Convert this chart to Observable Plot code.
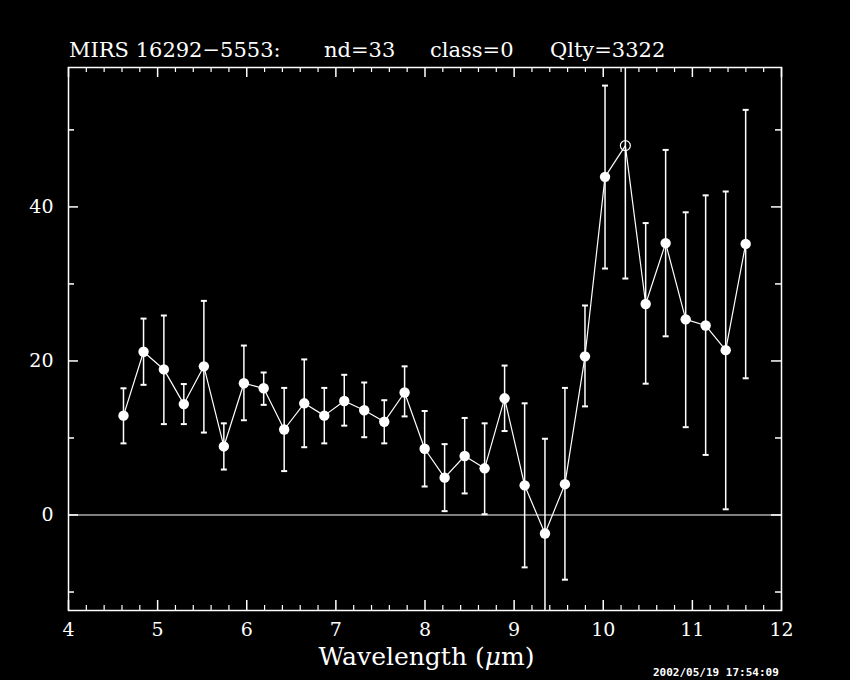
<!DOCTYPE html>
<html><head><meta charset="utf-8">
<script src="https://cdn.jsdelivr.net/npm/d3@7"></script>
<script src="https://cdn.jsdelivr.net/npm/@observablehq/plot@0.6"></script>
<style>
html,body{margin:0;padding:0;background:#000;overflow:hidden;}
#chart{width:850px;height:680px;overflow:hidden;}
</style>
</head><body><div id="chart"></div>
<script>
// ---- data ----
const wavelength = [4.617, 4.842, 5.070, 5.294, 5.519, 5.743, 5.968, 6.190, 6.420, 6.645, 6.870, 7.094, 7.318, 7.543, 7.771, 7.996,
                    8.220, 8.445, 8.669, 8.893, 9.118, 9.346, 9.570, 9.795, 10.020, 10.248, 10.476, 10.700, 10.925, 11.149, 11.374, 11.598];
const flux       = [12.9, 21.2, 18.9, 14.4, 19.3, 8.9, 17.1, 16.45, 11.1, 14.5, 12.9, 14.8, 13.6, 12.1, 15.9, 8.6,
                    4.85, 7.66, 6.06, 15.15, 3.85, -2.4, 4.0, 20.6, 43.9, 47.96, 27.4, 35.3, 25.4, 24.6, 21.4, 35.2];
const errLow     = [9.3, 16.9, 11.8, 11.8, 10.7, 5.9, 12.3, 14.3, 5.7, 8.8, 9.3, 11.6, 10.1, 9.3, 12.8, 3.7,
                    0.5, 2.8, 0.1, 10.9, -6.8, -14.7, -8.4, 14.1, 32.0, 30.7, 17.05, 23.2, 11.4, 7.8, 0.74, 17.75];
const errHigh    = [16.45, 25.5, 25.9, 17.0, 27.8, 11.9, 22.0, 18.5, 16.5, 20.2, 16.5, 18.2, 17.2, 14.9, 19.3, 13.5,
                    9.2, 12.6, 11.9, 19.4, 14.5, 9.9, 16.5, 27.2, 55.75, 65.2, 37.9, 47.4, 39.3, 41.5, 42.0, 52.6];
const openFlag   = [0,0,0,0,0,0,0,0,0,0,0,0,0,0,0,0, 0,0,0,0,0,0,0,0,0,1,0,0,0,0,0,0];

const xMajorTicks = [4, 5, 6, 7, 8, 9, 10, 11, 12];
const yMajorTicks = [0, 20, 40];
const yMinorTicks = [-10, 10, 30, 50];
const xDomain = [4, 12];
const yDomain = [-12.4, 58.1];
const titleParts = ["MIRS 16292\u22125553:", "nd=33", "class=0", "Qlty=3322"];
const timestamp = "2002/05/19 17:54:09";

const xMinorTicks = d3.range(4.2, 12, 0.2).map(v => +v.toFixed(1)).filter(v => Math.abs(v - Math.round(v)) > 1e-6);

const data = wavelength.map((x, i) => ({x, y: flux[i], lo: errLow[i], hi: errHigh[i], open: openFlag[i] === 1}));

const W = 850, H = 680, mT = 67, mR = 69, mB = 70, mL = 68;
const pW = W - mL - mR, pH = H - mT - mB;
const fg = "white";

const capSymbol = {draw(ctx, size) { const r = Math.sqrt(size / Math.PI); ctx.moveTo(-r, 0); ctx.lineTo(r, 0); }};

const chart = Plot.plot({
  width: W, height: H,
  marginTop: mT, marginRight: mR, marginBottom: mB, marginLeft: mL,
  style: {background: "black", color: fg, fontFamily: "'DejaVu Serif', serif", fontSize: "19px", overflow: "hidden"},
  x: {domain: xDomain, label: null},
  y: {domain: yDomain, label: null},
  marks: [
    Plot.axisX(xMajorTicks, {tickSize: 0, tickPadding: 12, label: null, fontSize: 19, fill: fg}),
    Plot.axisY(yMajorTicks, {tickSize: 0, tickPadding: 15, label: null, fontSize: 19, fill: fg}),
    Plot.ruleY([0], {stroke: fg, strokeWidth: 1}),
    // inward ticks
    Plot.tickX(xMajorTicks, {x: d => d, stroke: fg, strokeWidth: 1.5, insetTop: pH - 10}),
    Plot.tickX(xMinorTicks, {x: d => d, stroke: fg, strokeWidth: 1.2, insetTop: pH - 5}),
    Plot.tickX(xMajorTicks, {x: d => d, stroke: fg, strokeWidth: 1.5, insetBottom: pH - 10}),
    Plot.tickX(xMinorTicks, {x: d => d, stroke: fg, strokeWidth: 1.2, insetBottom: pH - 5}),
    Plot.tickY(yMajorTicks, {y: d => d, stroke: fg, strokeWidth: 1.5, insetRight: pW - 10}),
    Plot.tickY(yMinorTicks, {y: d => d, stroke: fg, strokeWidth: 1.5, insetRight: pW - 6}),
    Plot.tickY(yMajorTicks, {y: d => d, stroke: fg, strokeWidth: 1.5, insetLeft: pW - 10}),
    Plot.tickY(yMinorTicks, {y: d => d, stroke: fg, strokeWidth: 1.5, insetLeft: pW - 6}),
    // error bars
    Plot.ruleX(data, {x: "x", y1: "lo", y2: "hi", stroke: fg, strokeWidth: 1.5, clip: true}),
    Plot.dot(data, {x: "x", y: "lo", symbol: capSymbol, r: 3, stroke: fg, strokeWidth: 2, clip: true}),
    Plot.dot(data, {x: "x", y: "hi", symbol: capSymbol, r: 3, stroke: fg, strokeWidth: 2, clip: true}),
    // connecting line and points
    Plot.line(data, {x: "x", y: "y", stroke: fg, strokeWidth: 1.2}),
    Plot.dot(data.filter(d => !d.open), {x: "x", y: "y", r: 5.2, fill: fg, stroke: "none"}),
    Plot.dot(data.filter(d => d.open), {x: "x", y: "y", r: 5, fill: "none", stroke: fg, strokeWidth: 1.2}),
    Plot.frame({stroke: fg, strokeWidth: 1.5})
  ]
});

const svg = d3.select(chart);
// title
const titleX = [69, 324, 430, 550];
titleParts.forEach((t, i) => {
  svg.append("text").attr("x", titleX[i]).attr("y", 57).attr("text-anchor", "start")
    .attr("fill", fg).attr("font-family", "'DejaVu Serif', serif").attr("font-size", 21)
    .text(t);
});
// x-axis label
const xl = svg.append("text").attr("x", (mL + W - mR) / 2 + 2).attr("y", 665)
  .attr("text-anchor", "middle").attr("fill", fg)
  .attr("font-family", "'DejaVu Serif', serif").attr("font-size", 25);
xl.append("tspan").text("Wavelength (");
xl.append("tspan").attr("font-style", "italic").text("\u03bc");
xl.append("tspan").text("m)");
// timestamp
svg.append("text").attr("x", 653).attr("y", 676).attr("text-anchor", "start")
  .attr("fill", fg).attr("font-family", "'DejaVu Sans Mono', monospace").attr("font-weight", "bold")
  .attr("font-size", 11).text(timestamp);

document.getElementById("chart").appendChild(chart);
</script>
</body></html>
